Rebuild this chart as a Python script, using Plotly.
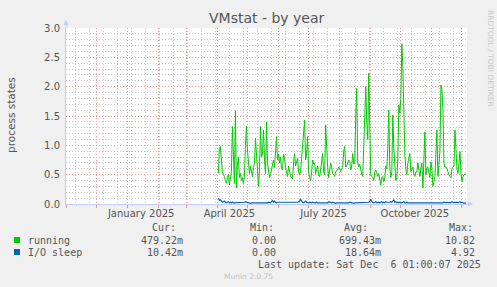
import plotly.graph_objects as go
import pandas as pd

# ---------------- data ----------------
title = "VMstat - by year"
y_title = "process states"
start_date = "2025-04-02"

running = [
    0.52, 0.95, 0.98, 0.75, 0.55, 0.50, 0.47, 0.40, 0.35, 0.45,
    0.50, 0.33, 0.45, 0.55, 1.32, 0.55, 0.35, 1.59, 0.27, 0.66,
    0.80, 0.45, 0.52, 0.40, 0.45, 0.35, 0.48, 1.00, 1.33, 0.92,
    0.60, 0.52, 0.64, 0.55, 0.47, 0.62, 0.70, 1.12, 0.75, 0.58,
    0.30, 0.55, 1.32, 0.80, 0.85, 1.26, 0.75, 0.52, 1.40, 0.70,
    0.58, 0.45, 0.50, 0.58, 0.65, 0.75, 0.62, 0.85, 1.15, 0.75,
    0.85, 0.70, 0.80, 0.60, 0.58, 0.85, 0.80, 0.62, 0.55, 0.47,
    0.65, 0.55, 0.48, 0.45, 0.43, 0.70, 0.86, 0.65, 0.70, 0.78,
    0.55, 0.50, 0.55, 0.80, 0.92, 1.20, 1.43, 0.75, 0.85, 1.15,
    0.55, 0.45, 0.40, 0.55, 0.75, 0.68, 0.70, 0.52, 0.60, 0.65,
    0.48, 0.47, 0.58, 0.75, 0.86, 0.55, 0.50, 1.35, 0.85, 0.63,
    0.45, 0.55, 0.70, 0.62, 0.52, 0.50, 0.47, 0.55, 0.58, 0.58,
    0.63, 0.60, 0.55, 0.60, 0.63, 0.90, 0.98, 0.63, 0.65, 0.70,
    0.75, 0.72, 0.58, 0.65, 0.86, 0.68, 0.70, 1.50, 1.97, 0.70,
    0.63, 0.68, 0.55, 0.50, 0.47, 1.00, 1.55, 2.00, 1.40, 1.10,
    2.23, 0.98, 0.50, 0.47, 0.45, 0.40, 0.55, 0.58, 0.50, 0.47,
    0.52, 0.40, 0.32, 0.45, 0.47, 0.38, 0.45, 0.65, 0.60, 0.95,
    1.60, 0.60, 0.45, 0.55, 1.52, 0.95, 0.70, 0.40, 0.45, 0.75,
    1.69, 1.55, 1.80, 2.73, 2.35, 1.43, 0.85, 0.60, 0.50, 0.70,
    0.80, 0.86, 0.55, 0.60, 0.63, 0.50, 0.47, 0.55, 0.55, 0.70,
    0.60, 0.47, 0.60, 0.70, 0.27, 0.80, 1.23, 0.50, 0.62, 0.63,
    0.50, 0.45, 0.72, 0.60, 0.30, 0.40, 0.47, 0.85, 1.26, 0.47,
    0.65, 0.90, 2.03, 1.95, 1.60, 0.70, 0.63, 0.63, 0.60, 0.52,
    0.50, 0.47, 0.45, 0.60, 0.63, 0.65, 1.26, 0.85, 0.60, 0.52,
    0.70, 0.89, 0.52, 0.38, 0.47, 0.50, 0.50, 0.52,
]

io_sleep = [
    0.10, 0.06, 0.07, 0.04, 0.03, 0.04, 0.05, 0.03, 0.02, 0.03,
    0.04, 0.02, 0.03, 0.02, 0.03, 0.02, 0.02, 0.03, 0.02, 0.02,
    0.02, 0.03, 0.02, 0.02, 0.03, 0.02, 0.03, 0.04, 0.03, 0.02,
    0.02, 0.02, 0.01, 0.02, 0.02, 0.02, 0.01, 0.02, 0.02, 0.02,
    0.02, 0.01, 0.02, 0.02, 0.02, 0.02, 0.02, 0.01, 0.02, 0.02,
    0.03, 0.02, 0.02, 0.04, 0.06, 0.03, 0.05, 0.03, 0.02, 0.03,
    0.03, 0.02, 0.02, 0.03, 0.02, 0.02, 0.03, 0.02, 0.02, 0.03,
    0.02, 0.02, 0.03, 0.02, 0.03, 0.02, 0.02, 0.03, 0.02, 0.03,
    0.04, 0.05, 0.08, 0.04, 0.03, 0.02, 0.03, 0.05, 0.03, 0.02,
    0.02, 0.03, 0.02, 0.02, 0.03, 0.02, 0.02, 0.02, 0.03, 0.02,
    0.02, 0.03, 0.02, 0.02, 0.02, 0.03, 0.02, 0.03, 0.02, 0.02,
    0.04, 0.03, 0.02, 0.02, 0.03, 0.02, 0.02, 0.01, 0.02, 0.02,
    0.02, 0.02, 0.01, 0.02, 0.02, 0.02, 0.02, 0.01, 0.02, 0.02,
    0.02, 0.03, 0.02, 0.02, 0.02, 0.01, 0.02, 0.02, 0.02, 0.02,
    0.02, 0.02, 0.02, 0.02, 0.03, 0.02, 0.02, 0.02, 0.03, 0.02,
    0.03, 0.05, 0.08, 0.04, 0.03, 0.02, 0.03, 0.04, 0.02, 0.03,
    0.03, 0.02, 0.03, 0.04, 0.02, 0.03, 0.02, 0.04, 0.03, 0.03,
    0.02, 0.03, 0.04, 0.03, 0.05, 0.07, 0.03, 0.04, 0.02, 0.03,
    0.02, 0.03, 0.02, 0.02, 0.03, 0.04, 0.02, 0.02, 0.03, 0.02,
    0.02, 0.02, 0.01, 0.02, 0.02, 0.02, 0.01, 0.02, 0.02, 0.02,
    0.01, 0.02, 0.02, 0.02, 0.01, 0.02, 0.02, 0.01, 0.02, 0.02,
    0.02, 0.01, 0.02, 0.02, 0.02, 0.01, 0.02, 0.02, 0.02, 0.02,
    0.01, 0.02, 0.02, 0.02, 0.02, 0.03, 0.02, 0.02, 0.03, 0.02,
    0.02, 0.03, 0.02, 0.04, 0.03, 0.02, 0.03, 0.02, 0.03, 0.02,
    0.03, 0.04, 0.02, 0.03, 0.02, 0.01, 0.02, 0.01,
]

x_range = ["2024-11-01", "2025-12-06"]
label_dates = ["2025-01-15", "2025-04-13", "2025-07-16", "2025-10-15"]
label_texts = ["January 2025", "April 2025", "July 2025", "October 2025"]

series_names = ["running", "I/O sleep"]
series_colors = ["#00CC00", "#0066B3"]
stat_headers = ["Cur:", "Min:", "Avg:", "Max:"]
stats = [
    ["479.22m", "0.00", "699.43m", "10.82"],
    ["10.42m", "0.00", "18.64m", "4.92"],
]
last_update = "Last update: Sat Dec\u00a0\u00a06 01:00:07 2025"
footer = "Munin 2.0.75"
watermark = "RRDTOOL / TOBI OETIKER"

# ---------------- layout geometry ----------------
W, H = 497, 287
L, R, T, B = 66, 30, 28, 83
PW, PH = W - L - R, H - T - B


def px(x):
    return (x - L) / PW


def py(y):
    return (H - B - y) / PH


dates = pd.date_range(start_date, periods=len(running), freq="D")

fig = go.Figure()
fig.add_trace(go.Scatter(x=dates, y=running, mode="lines",
                         line=dict(color=series_colors[0], width=1),
                         hoverinfo="skip", showlegend=False))
fig.add_trace(go.Scatter(x=dates, y=io_sleep, mode="lines",
                         line=dict(color=series_colors[1], width=1.2),
                         hoverinfo="skip", showlegend=False))
# empty trace for the overlay axis carrying the bi-weekly grid
fig.add_trace(go.Scatter(x=[], y=[], xaxis="x2", yaxis="y",
                         hoverinfo="skip", showlegend=False))

RED = "rgba(235,150,150,1)"
GRAY = "rgba(200,200,200,1)"
AXIS = "#C4CCF2"
TXT = "#555555"
DOTS = "1px,2px"

fig.update_layout(
    width=W, height=H,
    margin=dict(l=L, r=R, t=T, b=B, pad=0),
    paper_bgcolor="#F0F0F0",
    plot_bgcolor="#FFFFFF",
    font=dict(family="DejaVu Sans", size=10, color=TXT),
    showlegend=False,
    xaxis=dict(
        type="date", range=x_range,
        tickmode="array", tickvals=label_dates, ticktext=label_texts,
        ticks="", showgrid=False, zeroline=False,
        showline=True, linecolor=AXIS, linewidth=1,
        tickfont=dict(family="DejaVu Sans", size=10, color=TXT),
        minor=dict(tickmode="linear", tick0="2024-12-01", dtick="M1",
                   showgrid=True, gridcolor=RED, griddash=DOTS, gridwidth=1,
                   ticks="outside", ticklen=3, tickcolor=RED),
        layer="above traces",
    ),
    xaxis2=dict(
        type="date", range=x_range, overlaying="x", anchor="y",
        tickmode="linear", tick0="2024-11-10", dtick=14 * 86400000,
        showgrid=True, gridcolor=GRAY, griddash=DOTS, gridwidth=1,
        showticklabels=False, ticks="", zeroline=False, showline=False,
    ),
    yaxis=dict(
        range=[0, 3.0], tickmode="linear", tick0=0, dtick=0.5,
        tickformat=".1f", showgrid=True, gridcolor=RED, griddash=DOTS,
        gridwidth=1, zeroline=False, showline=True, linecolor=AXIS,
        linewidth=1, ticks="outside", ticklen=3, tickcolor="rgba(0,0,0,0)",
        tickfont=dict(family="DejaVu Sans", size=10, color=TXT),
        minor=dict(dtick=0.1, showgrid=True, gridcolor=GRAY,
                   griddash=DOTS, gridwidth=1),
        layer="above traces",
    ),
)

ann = []
# title
ann.append(dict(text=title, x=0.5, xref="paper", y=py(18), yref="paper",
                xanchor="center", yanchor="middle", showarrow=False,
                font=dict(family="DejaVu Sans", size=14, color=TXT)))
# y axis title
ann.append(dict(text=y_title, x=px(11), xref="paper", y=py(115),
                yref="paper", xanchor="center", yanchor="middle",
                showarrow=False, textangle=-90,
                font=dict(family="DejaVu Sans", size=10.5, color=TXT)))
# watermark
ann.append(dict(text=watermark, x=px(490), xref="paper", y=py(58),
                yref="paper", xanchor="center", yanchor="middle",
                showarrow=False, textangle=90,
                font=dict(family="DejaVu Sans", size=7.5, color="#C8C8C8")))
# axis arrows
ann.append(dict(text="", x=0, xref="paper", y=1, yref="paper",
                ax=0, ay=9, axref="pixel", ayref="pixel", yshift=8,
                showarrow=True, arrowhead=2, arrowsize=1, arrowwidth=1,
                arrowcolor=AXIS))
ann.append(dict(text="", x=1, xref="paper", y=0, yref="paper",
                ax=-8, ay=0, axref="pixel", ayref="pixel", xshift=6,
                showarrow=True, arrowhead=2, arrowsize=1, arrowwidth=1,
                arrowcolor=AXIS))

MONO = "DejaVu Sans Mono"
header_left = [150, 248, 342, 447]
value_right = [185, 278, 383, 477]
for h, xl in zip(stat_headers, header_left):
    ann.append(dict(text=h, x=px(xl), xref="paper", y=py(228), yref="paper",
                    xanchor="left", yanchor="middle", showarrow=False,
                    font=dict(family=MONO, size=10, color=TXT)))
row_y = [240, 252]
for name, color, vals, yy in zip(series_names, series_colors, stats, row_y):
    fig.add_shape(type="rect", xref="paper", yref="paper",
                  x0=px(14), x1=px(20), y0=py(yy + 3), y1=py(yy - 3),
                  fillcolor=color, line=dict(width=0))
    ann.append(dict(text=name, x=px(26), xref="paper", y=py(yy),
                    yref="paper", xanchor="left", yanchor="middle",
                    showarrow=False, font=dict(family=MONO, size=10,
                                               color=TXT)))
    for v, xr in zip(vals, value_right):
        ann.append(dict(text=v, x=px(xr), xref="paper", y=py(yy),
                        yref="paper", xanchor="right", yanchor="middle",
                        showarrow=False, font=dict(family=MONO, size=10,
                                                   color=TXT)))
ann.append(dict(text=last_update, x=px(483), xref="paper", y=py(264),
                yref="paper", xanchor="right", yanchor="middle",
                showarrow=False, font=dict(family=MONO, size=10, color=TXT)))
ann.append(dict(text=footer, x=px(248), xref="paper", y=py(276),
                yref="paper", xanchor="center", yanchor="middle",
                showarrow=False,
                font=dict(family="DejaVu Sans", size=7.5, color="#C4C4C4")))

fig.update_layout(annotations=ann)
fig.write_html("out.html")
